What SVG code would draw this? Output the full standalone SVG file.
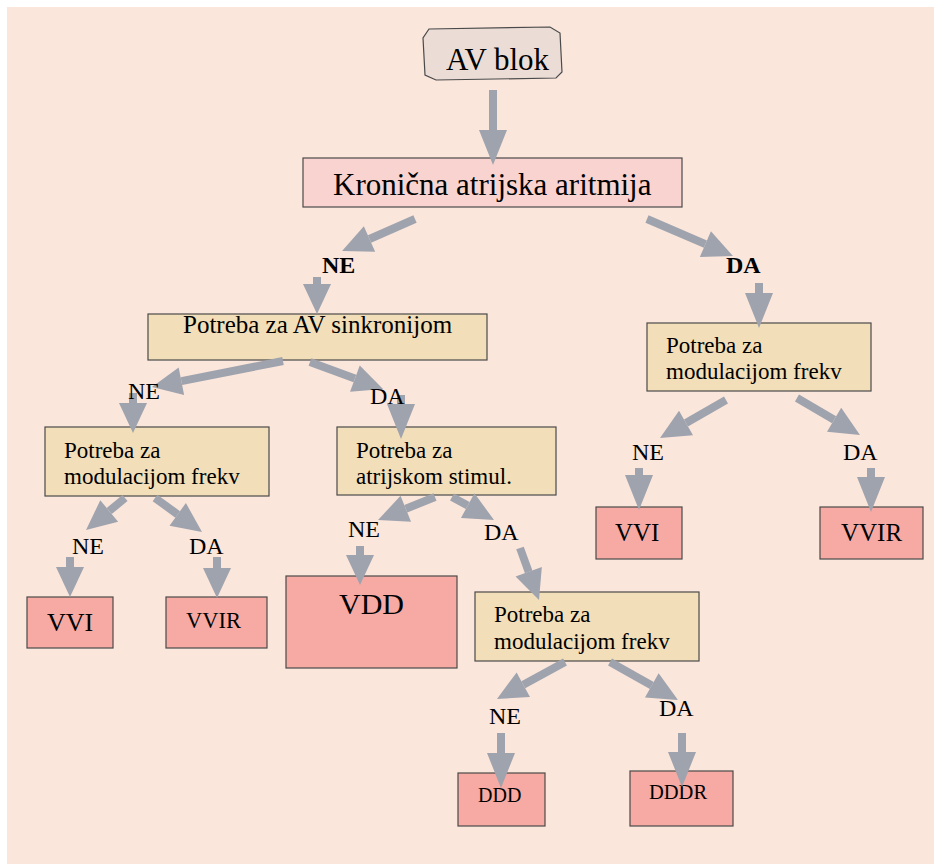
<svg xmlns="http://www.w3.org/2000/svg" width="934" height="864" viewBox="0 0 934 864">
<style>
.box{stroke:#4a4a4a;stroke-width:1.2}
.q{fill:#F2DEB8}
.r{fill:#F6AAA3}
.t{font-family:"Liberation Serif","Times New Roman",serif;fill:#000}
.c{stroke:#9FA3AD;stroke-width:8;fill:none}
.lb{font-family:"Liberation Serif","Times New Roman",serif;font-size:24px;fill:#000}
</style>
<defs>
<marker id="h30" markerUnits="userSpaceOnUse" markerWidth="31" markerHeight="28" refX="0" refY="14" orient="auto" overflow="visible"><path d="M0,0 L30,14 L0,28 z" fill="#9FA3AD"/></marker>
<marker id="h35" markerUnits="userSpaceOnUse" markerWidth="36" markerHeight="28" refX="0" refY="14" orient="auto" overflow="visible"><path d="M0,0 L35,14 L0,28 z" fill="#9FA3AD"/></marker>
</defs>
<rect x="7" y="7" width="927" height="857" fill="#FBE6DC"/>
<g id="nodes">
<g id="av-blok"><polygon class="box" fill="#EBDDD6" points="429,29 550,27 560,33 562,72 556,78 436,80 425,75 423,38"/><text class="t" x="446" y="70" font-size="31">AV blok</text></g>
<g id="kronicna"><rect class="box" fill="#F9D3CF" x="303" y="158" width="379" height="49"/><text class="t" x="333" y="195" font-size="31">Kronična atrijska aritmija</text></g>
<g id="av-sinkronija"><rect class="box q" x="148" y="314" width="339" height="46"/><text class="t" x="183" y="333" font-size="25">Potreba za AV sinkronijom</text></g>
<g id="mod-right"><rect class="box q" x="647" y="323" width="224" height="68"/><text class="t" x="666" y="353" font-size="23">Potreba za</text><text class="t" x="666" y="379" font-size="23">modulacijom frekv</text></g>
<g id="mod-left"><rect class="box q" x="45" y="427" width="224" height="69"/><text class="t" x="64" y="458" font-size="23">Potreba za</text><text class="t" x="64" y="484" font-size="23">modulacijom frekv</text></g>
<g id="atrijska-stim"><rect class="box q" x="337" y="427" width="219" height="68"/><text class="t" x="356" y="458" font-size="23">Potreba za</text><text class="t" x="356" y="484" font-size="23">atrijskom stimul.</text></g>
<g id="mod-bottom"><rect class="box q" x="475" y="592" width="224" height="69"/><text class="t" x="494" y="622" font-size="23">Potreba za</text><text class="t" x="494" y="649" font-size="23">modulacijom frekv</text></g>
<g id="vvi-right"><rect class="box r" x="596" y="507" width="86" height="52"/><text class="t" x="615" y="541" font-size="25">VVI</text></g>
<g id="vvir-right"><rect class="box r" x="820" y="507" width="103" height="52"/><text class="t" x="841" y="541" font-size="25">VVIR</text></g>
<g id="vvi-left"><rect class="box r" x="27" y="597" width="86" height="51"/><text class="t" x="47" y="631" font-size="26">VVI</text></g>
<g id="vvir-left"><rect class="box r" x="166" y="597" width="101" height="51"/><text class="t" x="186" y="628" font-size="22.5">VVIR</text></g>
<g id="vdd"><rect class="box r" x="286" y="576" width="171" height="92"/><text class="t" x="339" y="614" font-size="30">VDD</text></g>
<g id="ddd"><rect class="box r" x="458" y="773" width="87" height="53"/><text class="t" x="478" y="802" font-size="20">DDD</text></g>
<g id="dddr"><rect class="box r" x="630" y="771" width="103" height="55"/><text class="t" x="649" y="799" font-size="20.5">DDDR</text></g>
</g>
<g id="connectors">
<line class="c" marker-end="url(#h35)" x1="493" y1="90" x2="493" y2="130"/>
<line class="c" marker-end="url(#h30)" x1="415" y1="219" x2="369.5" y2="239"/>
<line class="c" marker-end="url(#h30)" x1="317" y1="277" x2="317" y2="284"/>
<line class="c" marker-end="url(#h30)" x1="647" y1="219" x2="705.4" y2="244.1"/>
<line class="c" marker-end="url(#h35)" x1="759" y1="283" x2="759" y2="293"/>
<line class="c" marker-end="url(#h30)" x1="726" y1="400" x2="686" y2="423"/>
<line class="c" marker-end="url(#h30)" x1="797" y1="398" x2="834.1" y2="419.8"/>
<line class="c" marker-end="url(#h35)" x1="639" y1="468" x2="639" y2="475"/>
<line class="c" marker-end="url(#h35)" x1="871" y1="468" x2="871" y2="477"/>
<line class="c" marker-end="url(#h30)" x1="283" y1="361" x2="181.4" y2="381.2"/>
<line class="c" marker-end="url(#h30)" x1="310" y1="362" x2="354.9" y2="378.6"/>
<line class="c" marker-end="url(#h30)" x1="133" y1="393" x2="133" y2="403"/>
<line class="c" marker-end="url(#h35)" x1="401" y1="395" x2="401" y2="404"/>
<line class="c" marker-end="url(#h30)" x1="125" y1="498" x2="109.2" y2="511"/>
<line class="c" marker-end="url(#h30)" x1="155" y1="498" x2="177.7" y2="514.4"/>
<line class="c" marker-end="url(#h30)" x1="70" y1="557" x2="70" y2="567"/>
<line class="c" marker-end="url(#h30)" x1="217" y1="557" x2="217" y2="568"/>
<line class="c" marker-end="url(#h30)" x1="435" y1="497" x2="405.8" y2="508.8"/>
<line class="c" marker-end="url(#h30)" x1="452" y1="497" x2="467.7" y2="505.6"/>
<line class="c" marker-end="url(#h30)" x1="360" y1="546" x2="360" y2="555"/>
<line class="c" marker-end="url(#h30)" x1="520" y1="548" x2="528.7" y2="571.8"/>
<line class="c" marker-end="url(#h30)" x1="565" y1="662" x2="523.3" y2="684.7"/>
<line class="c" marker-end="url(#h30)" x1="610" y1="662" x2="651.8" y2="685.4"/>
<line class="c" marker-end="url(#h35)" x1="501" y1="733" x2="501" y2="753"/>
<line class="c" marker-end="url(#h35)" x1="682" y1="733" x2="682" y2="752"/>
</g>
<g id="labels">
<text class="lb" x="322" y="273" font-weight="bold">NE</text>
<text class="lb" x="726" y="273" font-weight="bold">DA</text>
<text class="lb" x="632" y="460">NE</text>
<text class="lb" x="843" y="460">DA</text>
<text class="lb" x="128" y="399">NE</text>
<text class="lb" x="370" y="404">DA</text>
<text class="lb" x="72" y="554">NE</text>
<text class="lb" x="189" y="554">DA</text>
<text class="lb" x="348" y="537">NE</text>
<text class="lb" x="484" y="540">DA</text>
<text class="lb" x="489" y="724">NE</text>
<text class="lb" x="659" y="716">DA</text>
</g>
</svg>
